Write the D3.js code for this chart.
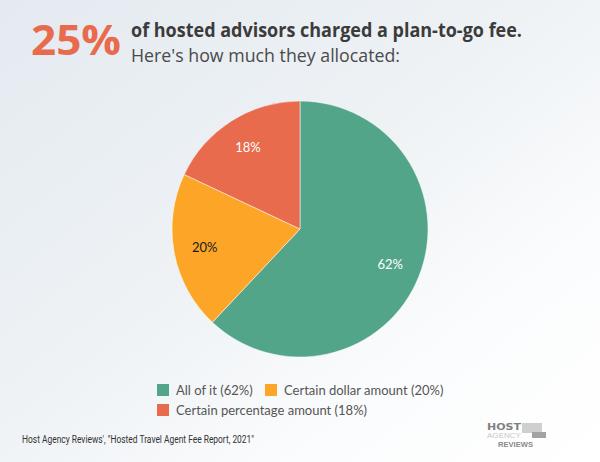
<!DOCTYPE html>
<html>
<head>
<meta charset="utf-8">
<script src="https://cdn.jsdelivr.net/npm/d3@7"></script>
<style>
  body { margin: 0; }
  svg { display: block; }
</style>
</head>
<body>
<div id="chart"></div>
<script>
var categories = ["All of it", "Certain dollar amount", "Certain percentage amount"];
var values = [62, 20, 18];
var colors = ["#53a58a", "#fca526", "#e86b4d"];
var labelColors = ["#ffffff", "#1a1a1a", "#ffffff"];

var width = 600, height = 462;

var svg = d3.select("#chart").append("svg")
    .attr("width", width)
    .attr("height", height);

// background gradient
var grad = svg.append("defs").append("linearGradient")
    .attr("id", "bg")
    .attr("x1", "0%").attr("y1", "0%")
    .attr("x2", "100%").attr("y2", "100%");
grad.append("stop").attr("offset", "0%").attr("stop-color", "#e4eaf0");
grad.append("stop").attr("offset", "45%").attr("stop-color", "#eef2f5");
grad.append("stop").attr("offset", "75%").attr("stop-color", "#fbfcfd");
grad.append("stop").attr("offset", "100%").attr("stop-color", "#ffffff");
svg.append("rect").attr("width", width).attr("height", height).attr("fill", "url(#bg)");

// title
svg.append("text")
    .attr("x", 31).attr("y", 55)
    .attr("font-family", "'Open Sans', sans-serif")
    .attr("font-weight", "bold")
    .attr("font-size", 42)
    .attr("textLength", 90)
    .attr("lengthAdjust", "spacingAndGlyphs")
    .attr("fill", "#e86b4d")
    .text("25%");
svg.append("text")
    .attr("x", 131).attr("y", 37)
    .attr("font-family", "'Open Sans', sans-serif")
    .attr("font-weight", "bold")
    .attr("font-size", 19)
    .attr("textLength", 391)
    .attr("lengthAdjust", "spacingAndGlyphs")
    .attr("fill", "#3b3b3b")
    .text("of hosted advisors charged a plan-to-go fee.");
svg.append("text")
    .attr("x", 131).attr("y", 62)
    .attr("font-family", "'Open Sans', sans-serif")
    .attr("font-size", 19)
    .attr("textLength", 269)
    .attr("lengthAdjust", "spacingAndGlyphs")
    .attr("fill", "#4a4a4a")
    .text("Here's how much they allocated:");

// pie
var radius = 128;
var g = svg.append("g").attr("transform", "translate(300,229)");
var pie = d3.pie().sort(null);
var arc = d3.arc().innerRadius(0).outerRadius(radius);
var labelArc = d3.arc().innerRadius(97).outerRadius(97);
var arcs = pie(values);

g.selectAll("path").data(arcs).enter().append("path")
    .attr("d", arc)
    .attr("fill", function(d, i) { return colors[i]; })
    .attr("stroke", "#ffffff")
    .attr("stroke-width", 0.5);

g.selectAll("text").data(arcs).enter().append("text")
    .attr("transform", function(d) { return "translate(" + labelArc.centroid(d) + ")"; })
    .attr("text-anchor", "middle")
    .attr("dy", "0.35em")
    .attr("font-family", "Lato, sans-serif")
    .attr("font-size", 13)
    .attr("fill", function(d, i) { return labelColors[i]; })
    .text(function(d) { return d.data + "%"; });

// legend
var legendPos = [[157, 384], [265, 384], [157, 404]];
var legend = svg.selectAll(".legend").data(categories).enter().append("g")
    .attr("class", "legend")
    .attr("transform", function(d, i) { return "translate(" + legendPos[i] + ")"; });
legend.append("rect")
    .attr("width", 12).attr("height", 12)
    .attr("fill", function(d, i) { return colors[i]; });
legend.append("text")
    .attr("x", 19).attr("y", 11)
    .attr("font-family", "Lato, sans-serif")
    .attr("font-size", 13)
    .attr("fill", "#555")
    .text(function(d, i) { return d + " (" + values[i] + "%)"; });

// source
svg.append("text")
    .attr("x", 22).attr("y", 443)
    .attr("font-family", "'Liberation Sans Narrow', 'Roboto', sans-serif")
    .attr("font-size", 10)
    .attr("textLength", 232)
    .attr("lengthAdjust", "spacingAndGlyphs")
    .attr("fill", "#333")
    .text("Host Agency Reviews', \"Hosted Travel Agent Fee Report, 2021\"");

// logo
var logo = svg.append("g").attr("transform", "translate(487,421)");
logo.append("rect").attr("x", 35).attr("y", 2).attr("width", 20).attr("height", 10).attr("fill", "#cfcfcf");
logo.append("rect").attr("x", 45).attr("y", 11).attr("width", 14).attr("height", 6).attr("fill", "#a3a3a3");
logo.append("text").attr("x", 0).attr("y", 9)
    .attr("font-family", "'DejaVu Sans', sans-serif").attr("font-weight", "bold")
    .attr("font-size", 9).attr("textLength", 34).attr("lengthAdjust", "spacingAndGlyphs")
    .attr("fill", "#808080").text("HOST");
logo.append("text").attr("x", 0).attr("y", 17)
    .attr("font-family", "'Liberation Sans Narrow', sans-serif")
    .attr("font-size", 7.5).attr("textLength", 34).attr("lengthAdjust", "spacingAndGlyphs")
    .attr("fill", "#c8c8c8").text("AGENCY");
logo.append("text").attr("x", 11).attr("y", 26)
    .attr("font-family", "'Liberation Sans Narrow', sans-serif").attr("font-weight", "bold")
    .attr("font-size", 8).attr("textLength", 35).attr("lengthAdjust", "spacingAndGlyphs")
    .attr("fill", "#8a8a8a").text("REVIEWS");
</script>
</body>
</html>
